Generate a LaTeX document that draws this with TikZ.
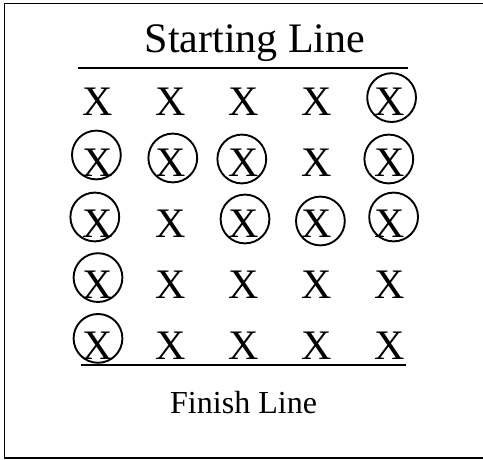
\documentclass[tikz,border=0pt]{standalone}
\usepackage{fontspec}
\setmainfont{Liberation Serif}
\usepackage{tikz}
\usetikzlibrary{positioning, calc}
\tikzset{
	bigtext/.style={font=\fontsize{29.9pt}{36pt}\selectfont, anchor=base, inner sep=0pt}
}
\tikzset{
	smalltext/.style={font=\fontsize{22.8pt}{27pt}\selectfont, anchor=base, inner sep=0pt}
}
\tikzset{
	ring/.style={line width=1.35pt}
}
\tikzset{
	rule/.style={line width=1pt}
}

\begin{document}
\begin{tikzpicture}

			\useasboundingbox (0,0) rectangle (12.075,11.5);
			\draw[line width=1.2pt] (12.075,11.41) -- (0.1125,11.41) -- (0.1125,0.05) -- (12.075,0.05);

			\begin{scope}
				\node[bigtext] (start) at (6.375,10.175) {Starting Line};
				\coordinate (sA) at (1.95,9.8);
				\coordinate (sB) at (10.2,9.8);
				\draw[rule] (sA) -- (sB);
			\end{scope}

			\begin{scope}
				\node[bigtext] (x11) at (2.43,8.62) {X};
				\node[bigtext] (x12) at (4.26,8.62) {X};
				\node[bigtext] (x13) at (6.09,8.62) {X};
				\node[bigtext] (x14) at (7.92,8.62) {X};
				\node[bigtext] (x15) at (9.75,8.62) {X};

				\node[bigtext] (x21) at (2.43,7.09) {X};
				\node[bigtext] (x22) at (4.26,7.09) {X};
				\node[bigtext] (x23) at (6.09,7.09) {X};
				\node[bigtext] (x24) at (7.92,7.09) {X};
				\node[bigtext] (x25) at (9.75,7.09) {X};

				\node[bigtext] (x31) at (2.43,5.56) {X};
				\node[bigtext] (x32) at (4.26,5.56) {X};
				\node[bigtext] (x33) at (6.09,5.56) {X};
				\node[bigtext] (x34) at (7.92,5.56) {X};
				\node[bigtext] (x35) at (9.75,5.56) {X};

				\node[bigtext] (x41) at (2.43,4.03) {X};
				\node[bigtext] (x42) at (4.26,4.03) {X};
				\node[bigtext] (x43) at (6.09,4.03) {X};
				\node[bigtext] (x44) at (7.92,4.03) {X};
				\node[bigtext] (x45) at (9.75,4.03) {X};

				\node[bigtext] (x51) at (2.43,2.5) {X};
				\node[bigtext] (x52) at (4.26,2.5) {X};
				\node[bigtext] (x53) at (6.09,2.5) {X};
				\node[bigtext] (x54) at (7.92,2.5) {X};
				\node[bigtext] (x55) at (9.75,2.5) {X};
			\end{scope}

			\begin{scope}

				\coordinate (c15) at (9.79,9.06);
				\coordinate (c21) at (2.41,7.625);
				\coordinate (c22) at (4.32,7.55);
				\coordinate (c23) at (6.045,7.525);
				\coordinate (c25) at (9.72,7.525);
				\coordinate (c31) at (2.37,6.075);
				\coordinate (c33) at (6.125,6.025);
				\coordinate (c34) at (8.01,5.975);
				\coordinate (c35) at (9.84,6.075);
				\coordinate (c41) at (2.45,4.56);
				\coordinate (c51) at (2.45,3.04);

				\draw[ring] (c15) circle (0.61);
				\draw[ring] (c21) circle (0.61);
				\draw[ring] (c22) circle (0.61);
				\draw[ring] (c23) circle (0.61);
				\draw[ring] (c25) circle (0.61);
				\draw[ring] (c31) circle (0.61);
				\draw[ring] (c33) circle (0.61);
				\draw[ring] (c34) circle (0.61);
				\draw[ring] (c35) circle (0.61);
				\draw[ring] (c41) circle (0.61);
				\draw[ring] (c51) circle (0.61);

			\end{scope}

			\begin{scope}
				\coordinate (fA) at (2.025,2.375);
				\coordinate (fB) at (10.15,2.375);
				\draw[rule] (fA) -- (fB);
				\node[smalltext] (finish) at (6.09,1.17) {Finish Line};
			\end{scope}

		\end{tikzpicture}
\end{document}
